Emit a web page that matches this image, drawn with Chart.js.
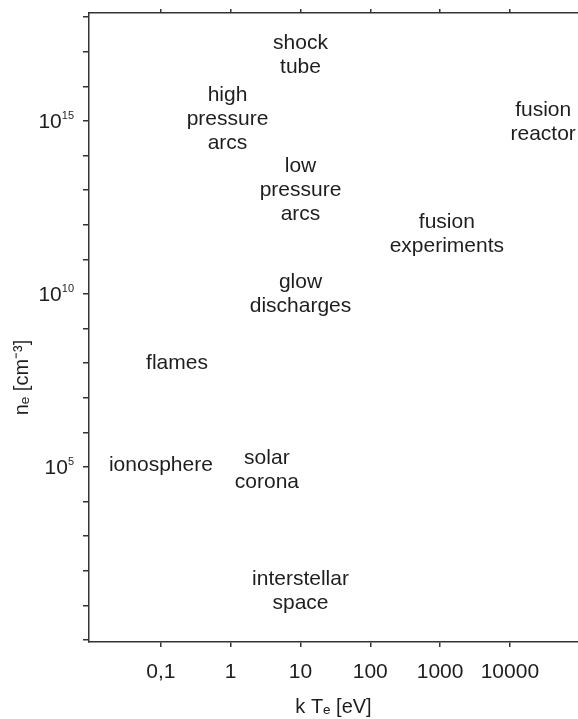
<!DOCTYPE html>
<html>
<head>
<meta charset="utf-8">
<script src="https://cdn.jsdelivr.net/npm/chart.js@4"></script>
<style>
  body { margin: 0; background: #fff; }
  canvas { display: block; }
</style>
</head>
<body>
<canvas id="c" width="578" height="719"></canvas>
<script>
// plasma regimes: label lines, temperature kT_e [eV], density n_e [cm^-3]
const regionLabels = [
  ['shock', 'tube'],
  ['high', 'pressure', 'arcs'],
  ['low', 'pressure', 'arcs'],
  ['fusion', 'reactor'],
  ['fusion', 'experiments'],
  ['glow', 'discharges'],
  ['flames'],
  ['ionosphere'],
  ['solar', 'corona'],
  ['interstellar', 'space'],
];
const temps = [10, 0.9, 10, 30000, 1250, 10, 0.17, 0.1, 3.3, 10];
const densities = [8e16, 1.1e15, 1e13, 9e14, 5.2e11, 1e10, 1e8, 1.1e5, 8e4, 25];

const xTicks = [0.1, 1, 10, 100, 1000, 10000];
const xTickLabels = ['0,1', '1', '10', '100', '1000', '10000'];
const yDecades = [0, 1, 2, 3, 4, 5, 6, 7, 8, 9, 10, 11, 12, 13, 14, 15, 16, 17, 18];
const yLabelDecades = [5, 10, 15];

const FONT = '"Liberation Sans", Arial, sans-serif';
const INK = '#1e1e1e';
const AXIS = '#333';
const X_MIN = Math.pow(10, -2.03), X_MAX = Math.pow(10, 4.976);

const labelPlugin = {
  id: 'regionText',
  afterDatasetsDraw(chart) {
    const ctx = chart.ctx;
    const meta = chart.getDatasetMeta(0);
    ctx.save();
    ctx.fillStyle = INK;
    ctx.font = '21px ' + FONT;
    ctx.textAlign = 'center';
    ctx.textBaseline = 'middle';
    const lh = 24;
    meta.data.forEach((pt, i) => {
      const lines = regionLabels[i];
      const y0 = pt.y - (lines.length - 1) * lh / 2;
      lines.forEach((s, j) => ctx.fillText(s, pt.x, y0 + j * lh));
    });
    ctx.restore();
  },
  afterDraw(chart) {
    const ctx = chart.ctx;
    const a = chart.chartArea;
    const ys = chart.scales.y;
    ctx.save();
    ctx.fillStyle = INK;
    // y tick labels 10^n with a small raised exponent
    yLabelDecades.forEach(d => {
      const py = ys.getPixelForValue(Math.pow(10, d));
      const exp = String(d);
      ctx.font = '11px ' + FONT;
      const ew = ctx.measureText(exp).width;
      const right = a.left - 15;
      ctx.textAlign = 'left';
      ctx.textBaseline = 'alphabetic';
      ctx.fillText(exp, right - ew, py - 2);
      ctx.font = '21px ' + FONT;
      ctx.textAlign = 'right';
      ctx.textBaseline = 'middle';
      ctx.fillText('10', right - ew, py + 1);
    });
    // y axis title, sits lower than the axis middle in the original
    ctx.font = '20px ' + FONT;
    ctx.translate(22, (a.top + a.bottom) / 2 + 50);
    ctx.rotate(-Math.PI / 2);
    ctx.textAlign = 'center';
    ctx.textBaseline = 'middle';
    ctx.fillText('nₑ [cm⁻³]', 0, 0);
    ctx.restore();
  }
};

const axisGrid = { drawOnChartArea: false, color: AXIS, lineWidth: 1.5 };
const axisBorder = { display: true, color: AXIS, width: 1.5 };

new Chart(document.getElementById('c'), {
  type: 'scatter',
  data: {
    datasets: [{
      data: temps.map((t, i) => ({ x: t, y: densities[i] })),
      pointRadius: 0,
      pointHoverRadius: 0,
    }]
  },
  options: {
    responsive: false,
    animation: false,
    layout: { padding: 0 },
    plugins: { legend: { display: false }, tooltip: { enabled: false } },
    scales: {
      x: {
        type: 'logarithmic',
        position: 'bottom',
        min: X_MIN, max: X_MAX,
        afterBuildTicks: s => { s.ticks = xTicks.map(v => ({ value: v })); },
        afterFit: s => { s.height = 77; s.paddingLeft = 0; s.paddingRight = 0; },
        ticks: {
          autoSkip: false, maxRotation: 0, padding: 13,
          color: INK, font: { family: FONT, size: 21 },
          callback: (v, i) => xTickLabels[i],
        },
        grid: { ...axisGrid, tickLength: 5 },
        border: axisBorder,
        title: { display: true, text: 'k Tₑ [eV]', color: INK, font: { family: FONT, size: 20 }, padding: { top: 0, bottom: 0 } },
      },
      xTop: {
        type: 'logarithmic',
        position: 'top',
        min: X_MIN, max: X_MAX,
        afterBuildTicks: s => { s.ticks = xTicks.map(v => ({ value: v })); },
        afterFit: s => { s.height = 13; s.paddingLeft = 0; s.paddingRight = 0; },
        ticks: { display: false },
        grid: { ...axisGrid, tickLength: 4 },
        border: axisBorder,
      },
      y: {
        type: 'logarithmic',
        min: Math.pow(10, -0.06), max: Math.pow(10, 18.12),
        afterBuildTicks: s => { s.ticks = yDecades.map(d => ({ value: Math.pow(10, d) })); },
        afterFit: s => { s.width = 89; s.paddingTop = 0; s.paddingBottom = 0; },
        ticks: { display: false },
        grid: { ...axisGrid, tickLength: 6 },
        border: axisBorder,
      }
    }
  },
  plugins: [labelPlugin]
});
</script>
</body>
</html>
